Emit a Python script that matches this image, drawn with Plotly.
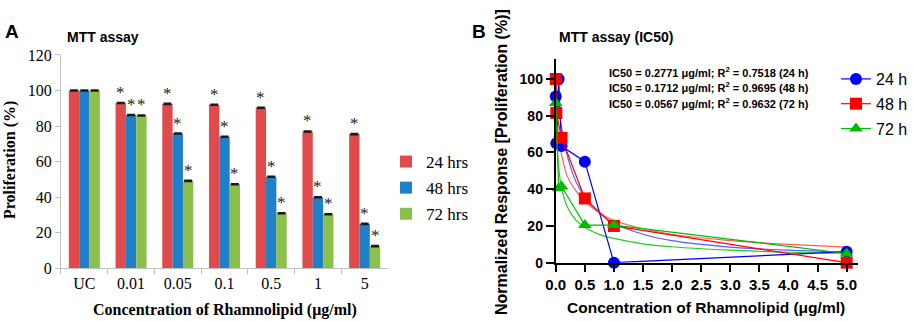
import plotly.graph_objects as go

# ---------------- Panel A data ----------------
categories = ["UC", "0.01", "0.05", "0.1", "0.5", "1", "5"]
prolif_24 = [100, 93.0, 92.5, 92.0, 90.3, 77.0, 75.5]
prolif_48 = [100, 86.3, 75.8, 74.0, 51.5, 40.0, 25.0]
prolif_72 = [100, 86.0, 49.2, 47.3, 31.0, 30.4, 12.5]
err_24 = [0.3] * 7
err_48 = [0.3] * 7
err_72 = [0.3] * 7
sig_24 = [False, True, True, True, True, True, True]
sig_48 = [False, True, True, True, True, True, True]
sig_72 = [False, True, True, True, True, True, True]
bar_names = ["24 hrs", "48 hrs", "72 hrs"]

# ---------------- Panel B data ----------------
x_24 = [0, 0.01, 0.05, 0.1, 0.5, 1, 5]
y_24 = [90.5, 65, 100, 63.5, 55, 0, 6]
x_48 = [0, 0.01, 0.1, 0.5, 1, 5]
y_48 = [100, 81.5, 68, 35, 20, 0]
x_72 = [0, 0.05, 0.1, 0.5, 1, 5]
y_72 = [87, 40.5, 41.5, 20.5, 20.5, 5]

fit_x = [0, 0.01, 0.02, 0.05, 0.1, 0.2, 0.35, 0.5, 0.75, 1, 1.5, 2, 3, 4, 5]
fit_24 = [100, 96, 93, 85, 73.5, 58, 44, 36, 27, 21.5, 15.5, 12, 8.5, 6.8, 5.7]
fit_48 = [100, 86, 80, 69, 59, 47, 39, 33.5, 27, 23, 18.5, 15.5, 12, 10, 8.5]
fit_72 = [100, 76, 66.5, 52, 40.7, 30.3, 23, 19.3, 15.4, 13.2, 10.3, 8.7, 6.8, 5.7, 5]
line_names = ["24 h", "48 h", "72 h"]

ic50_lines = [
    "IC50 = 0.2771 μg/ml; R<sup>2</sup> = 0.7518 (24 h)",
    "IC50 = 0.1712 μg/ml; R<sup>2</sup> = 0.9695 (48 h)",
    "IC50 = 0.0567 μg/ml; R<sup>2</sup> = 0.9632 (72 h)",
]

W, H = 913, 321
SERIF = "Liberation Serif"
SANS = "Liberation Sans"

bar_colors = ["#e04a4a", "#1f80c8", "#8cc04c"]
fig = go.Figure()
for name, vals, errs, col in zip(bar_names, [prolif_24, prolif_48, prolif_72],
                                 [err_24, err_48, err_72], bar_colors):
    fig.add_trace(go.Bar(
        x=categories, y=vals, name=name, marker=dict(color=col, line=dict(width=0)),
        error_y=dict(type="data", array=errs, color="#1a1a1a", thickness=1.5, width=4),
        xaxis="x", yaxis="y", legend="legend", legendgroup=name,
    ))

A_dom = [0.0668, 0.425]
bargap = 0.336
cat_px = (A_dom[1] - A_dom[0]) * W / len(categories)
bar_px = cat_px * (1 - bargap) / 3

annotations = []
for k, (vals, sig) in enumerate(zip([prolif_24, prolif_48, prolif_72], [sig_24, sig_48, sig_72])):
    for ci, (v, s) in enumerate(zip(vals, sig)):
        if s:
            annotations.append(dict(
                x=ci, y=v, xref="x", yref="y", text="*", showarrow=False,
                xshift=(k - 1) * bar_px, xanchor="center", yanchor="bottom", yshift=-1,
                font=dict(family=SERIF, size=17, color="#222"),
            ))

# Panel B traces
fit_colors = ["#5a5aff", "#ff5a5a", "#22cc22"]
for fy, col in zip([fit_24, fit_48, fit_72], fit_colors):
    fig.add_trace(go.Scatter(
        x=fit_x, y=fy, mode="lines", line=dict(color=col, width=1.2, shape="spline", smoothing=0.8),
        xaxis="x2", yaxis="y2", showlegend=False, hoverinfo="skip", cliponaxis=False,
    ))

data_colors = ["#0000ff", "#ff0000", "#00bb00"]
symbols = ["circle", "square", "triangle-up"]
for name, xs, ys, col, sym in zip(line_names, [x_24, x_48, x_72], [y_24, y_48, y_72],
                                  data_colors, symbols):
    fig.add_trace(go.Scatter(
        x=xs, y=ys, mode="lines+markers", name=name,
        line=dict(color=col, width=1.2),
        marker=dict(color=col, symbol=sym, size=12, line=dict(width=0)),
        xaxis="x2", yaxis="y2", legend="legend2", legendgroup=name, cliponaxis=False,
    ))

# Text annotations
annotations += [
    dict(x=12 / W, y=1 - 31 / H, text="<b>A</b>", font=dict(family=SANS, size=19, color="black")),
    dict(x=103 / W, y=1 - 37 / H, text="<b>MTT assay</b>", font=dict(family=SANS, size=14, color="black")),
    dict(x=10 / W, y=1 - 160 / H, text="<b>Proliferation (%)</b>", textangle=-90,
         font=dict(family=SERIF, size=16, color="black")),
    dict(x=225 / W, y=1 - 310 / H, text="<b>Concentration of Rhamnolipid (μg/ml)</b>",
         font=dict(family=SERIF, size=16, color="black")),
    dict(x=479 / W, y=1 - 31 / H, text="<b>B</b>", font=dict(family=SANS, size=19, color="black")),
    dict(x=616 / W, y=1 - 37 / H, text="<b>MTT assay (IC50)</b>", font=dict(family=SANS, size=14, color="black")),
    dict(x=502 / W, y=1 - 162 / H, text="<b>Normalized Response [Proliferation (%)]</b>", textangle=-90,
         font=dict(family=SANS, size=16, color="black")),
    dict(x=706 / W, y=1 - 307 / H, text="<b>Concentration of Rhamnolipid (μg/ml)</b>",
         font=dict(family=SANS, size=15.5, color="black")),
]
for i, t in enumerate(ic50_lines):
    annotations.append(dict(x=607 / W, y=1 - (72 + 15.5 * i) / H, text="<b>" + t + "</b>",
                            xanchor="left", font=dict(family=SANS, size=11, color="black")))
for a in annotations:
    a.setdefault("xref", "paper")
    a.setdefault("yref", "paper")
    a.setdefault("showarrow", False)
    a.setdefault("xanchor", "center")
    a.setdefault("yanchor", "middle")

fig.update_layout(
    width=W, height=H, margin=dict(l=0, r=0, t=0, b=0, autoexpand=False),
    paper_bgcolor="white", plot_bgcolor="white",
    barmode="group", bargap=bargap, bargroupgap=0,
    annotations=annotations,
    xaxis=dict(domain=A_dom, anchor="y", type="category", showline=True, linecolor="#bfbfbf",
               linewidth=1, ticks="outside", tickson="boundaries", ticklen=5, tickcolor="#bfbfbf",
               tickfont=dict(family=SERIF, size=16, color="black"), showgrid=False, zeroline=False),
    yaxis=dict(domain=[0.164, 0.8287], anchor="x", range=[0, 120], dtick=20, showline=True,
               linecolor="#bfbfbf", linewidth=1, ticks="outside", ticklen=5, tickcolor="#bfbfbf",
               tickfont=dict(family=SERIF, size=16, color="black"), showgrid=False, zeroline=False),
    xaxis2=dict(domain=[0.6087, 0.9401], anchor="y2", range=[0, 5.2], tick0=0, dtick=0.5,
                tickformat=".1f", showline=True, linecolor="black", linewidth=2, ticks="outside",
                ticklen=7, tickwidth=2, tickcolor="black", showgrid=False, zeroline=False,
                tickfont=dict(family=SANS, size=15, color="black", weight="bold")),
    yaxis2=dict(domain=[0.1816, 0.8168], anchor="x2", range=[0, 111], tick0=0, dtick=20,
                showline=True, linecolor="black", linewidth=2, ticks="outside", ticklen=8,
                tickwidth=2, tickcolor="black", showgrid=False, zeroline=False,
                tickfont=dict(family=SANS, size=14, color="black", weight="bold")),
    legend=dict(x=386 / W, y=1 - 144 / H, xanchor="left", yanchor="top", bgcolor="rgba(0,0,0,0)",
                font=dict(family=SERIF, size=17, color="black"), tracegroupgap=1, itemwidth=30),
    legend2=dict(x=836 / W, y=1 - 62 / H, xanchor="left", yanchor="top", bgcolor="rgba(0,0,0,0)",
                 font=dict(family=SANS, size=16, color="black"), tracegroupgap=1, itemwidth=30),
)

fig.write_html("out.html", config={"displayModeBar": False},
               post_script="document.body.style.margin='0';")
